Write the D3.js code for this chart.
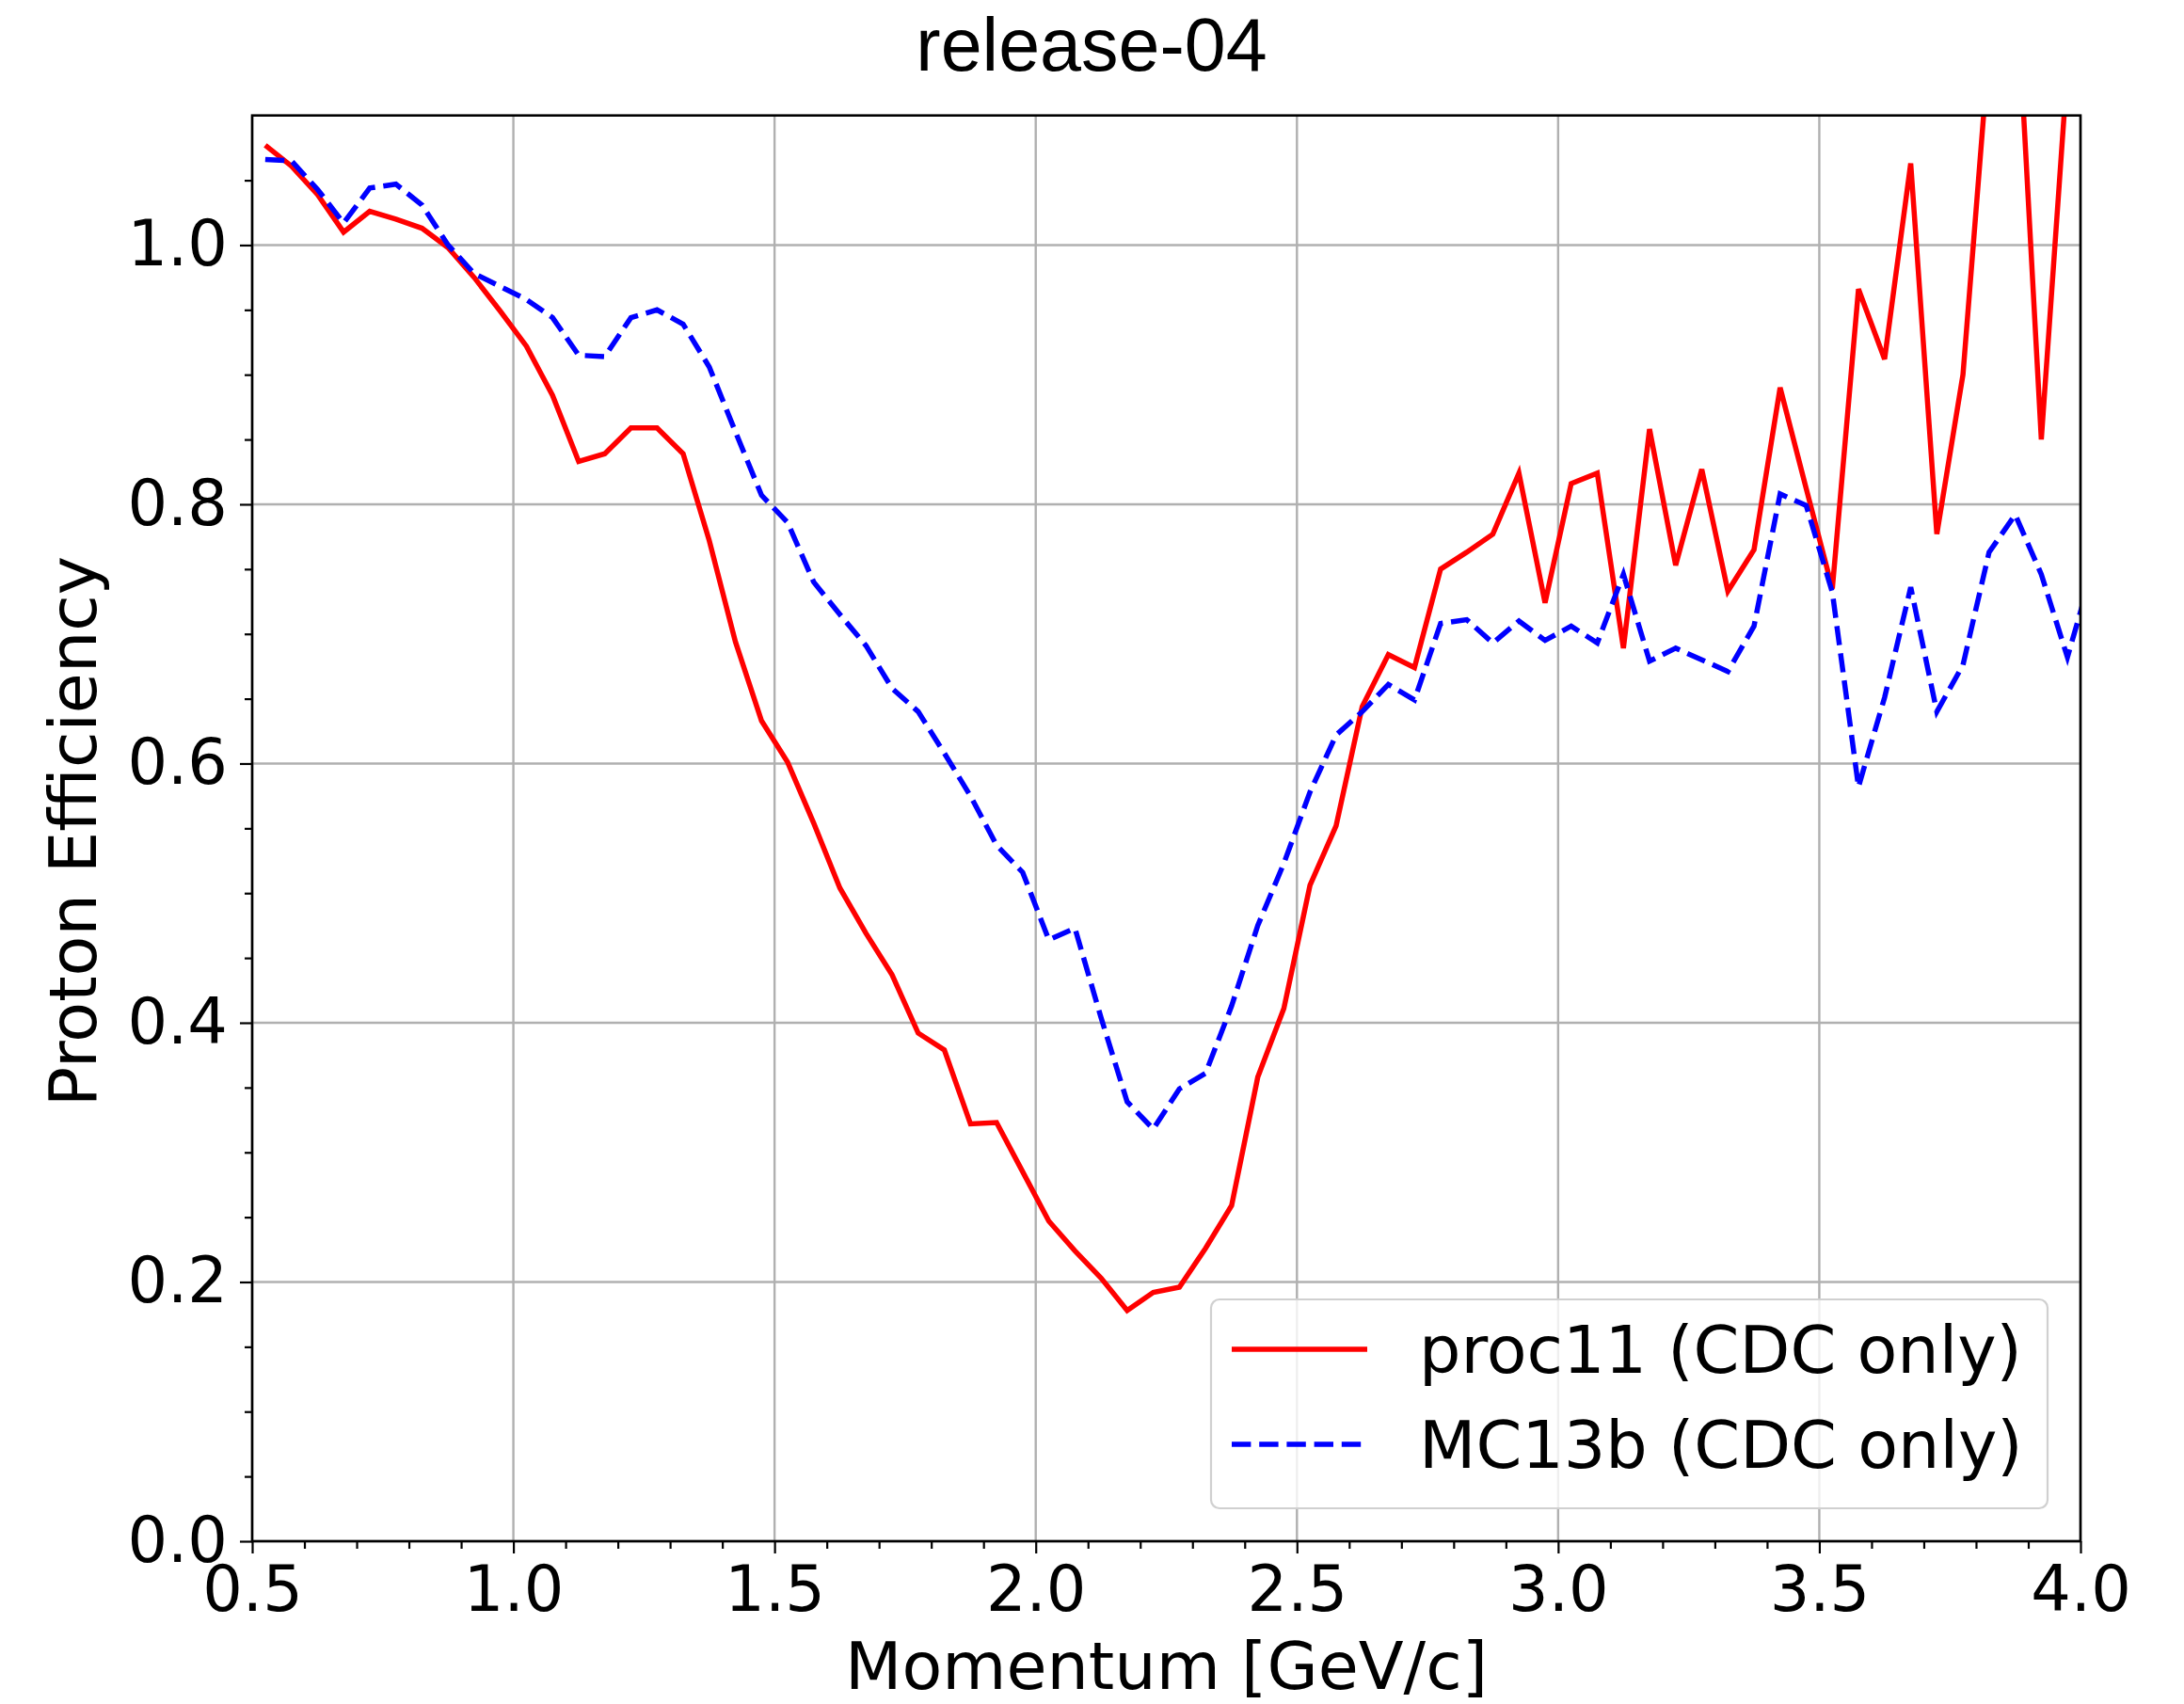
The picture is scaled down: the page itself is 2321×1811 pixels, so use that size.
<!DOCTYPE html>
<html><head><meta charset="utf-8">
<script src="https://cdn.jsdelivr.net/npm/d3@7/dist/d3.min.js"></script>
<style>body{margin:0;background:#fff}svg{display:block}</style>
</head><body>
<svg id="chart" width="2321" height="1811"></svg>
<script>
const momentum = [0.525,0.575,0.625,0.675,0.725,0.775,0.825,0.875,0.925,0.975,
  1.025,1.075,1.125,1.175,1.225,1.275,1.325,1.375,1.425,1.475,
  1.525,1.575,1.625,1.675,1.725,1.775,1.825,1.875,1.925,1.975,
  2.025,2.075,2.125,2.175,2.225,2.275,2.325,2.375,2.425,2.475,
  2.525,2.575,2.625,2.675,2.725,2.775,2.825,2.875,2.925,2.975,
  3.025,3.075,3.125,3.175,3.225,3.275,3.325,3.375,3.425,3.475,
  3.525,3.575,3.625,3.675,3.725,3.775,3.825,3.875,3.925,3.975,4.025];
const proc11 = [1.077,1.061,1.039,1.010,1.026,1.020,1.013,0.998,0.975,0.949,
  0.922,0.884,0.833,0.839,0.859,0.859,0.839,0.772,0.694,0.633,
  0.601,0.554,0.504,0.469,0.437,0.392,0.379,0.322,0.323,0.285,
  0.247,0.224,0.203,0.178,0.192,0.196,0.226,0.259,0.358,0.411,
  0.506,0.552,0.644,0.684,0.674,0.750,0.763,0.777,0.824,0.724,
  0.816,0.824,0.689,0.858,0.753,0.827,0.733,0.765,0.890,0.812,
  0.735,0.966,0.912,1.063,0.777,0.900,1.153,1.220,0.850,1.137,1.200];
const mc13b = [1.066,1.065,1.043,1.017,1.044,1.047,1.031,1.000,0.978,0.968,
  0.958,0.944,0.915,0.914,0.944,0.950,0.939,0.906,0.856,0.807,
  0.786,0.740,0.715,0.691,0.658,0.640,0.608,0.575,0.537,0.516,
  0.464,0.473,0.404,0.339,0.318,0.349,0.361,0.413,0.475,0.523,
  0.578,0.622,0.640,0.661,0.649,0.708,0.711,0.693,0.710,0.695,
  0.706,0.693,0.746,0.679,0.689,0.680,0.671,0.706,0.808,0.799,
  0.732,0.582,0.651,0.736,0.640,0.676,0.763,0.792,0.746,0.682,0.752];
const xTicks = [0.5,1.0,1.5,2.0,2.5,3.0,3.5,4.0];
const xMinorTicks = [0.6,0.7,0.8,0.9,1.1,1.2,1.3,1.4,1.6,1.7,1.8,1.9,2.1,2.2,2.3,2.4,2.6,2.7,2.8,2.9,3.1,3.2,3.3,3.4,3.6,3.7,3.8,3.9];
const yTicks = [0.0,0.2,0.4,0.6,0.8,1.0];
const yMinorTicks = [0.05,0.1,0.15,0.25,0.3,0.35,0.45,0.5,0.55,0.65,0.7,0.75,0.85,0.9,0.95,1.05];
const seriesNames = ["proc11 (CDC only)", "MC13b (CDC only)"];
const seriesColors = ["#ff0000", "#0000ff"];
const titleText = "release-04";
const xLabelText = "Momentum [GeV/c]";
const yLabelText = "Proton Efficiency";

const svg = d3.select("#chart");
const L = 268, R = 2211, T = 122.7, B = 1638;
const x = d3.scaleLinear().domain([0.5, 4.0]).range([L, R]);
const y = d3.scaleLinear().domain([0, 1.1]).range([B, T]);
const FONT = "'DejaVu Sans', sans-serif";
const FS_TICK = 67;
const FS_LABEL = 70;
const LW = 5.5;
const DASH = "20.4,8.8";

svg.append("rect").attr("width", 2321).attr("height", 1811).attr("fill", "#fff");

// grid
const grid = svg.append("g");
grid.selectAll(".gx").data(xTicks).join("line")
  .attr("x1", d => x(d)).attr("x2", d => x(d)).attr("y1", T).attr("y2", B)
  .attr("stroke", "#b0b0b0").attr("stroke-width", 2.4);
grid.selectAll(".gy").data(yTicks).join("line")
  .attr("y1", d => y(d)).attr("y2", d => y(d)).attr("x1", L).attr("x2", R)
  .attr("stroke", "#b0b0b0").attr("stroke-width", 2.4);

// clip
svg.append("clipPath").attr("id", "clip").append("rect")
  .attr("x", L).attr("y", T).attr("width", R - L).attr("height", B - T);

const lineGen = d3.line().x((d, i) => x(momentum[i])).y(d => y(d));
const lines = svg.append("g").attr("clip-path", "url(#clip)");
lines.append("path").datum(proc11).attr("d", lineGen)
  .attr("fill", "none").attr("stroke", seriesColors[0]).attr("stroke-width", LW)
  .attr("stroke-linejoin", "miter");
lines.append("path").datum(mc13b).attr("d", lineGen)
  .attr("fill", "none").attr("stroke", seriesColors[1]).attr("stroke-width", LW)
  .attr("stroke-dasharray", DASH);

// axes
const xAxis = svg.append("g").attr("transform", `translate(0,${B})`)
  .call(d3.axisBottom(x).tickValues(xTicks).tickFormat(d3.format(".1f")).tickSize(13).tickPadding(13));
const xMinor = svg.append("g").attr("transform", `translate(0,${B})`)
  .call(d3.axisBottom(x).tickValues(xMinorTicks).tickFormat("").tickSize(8));
const yAxis = svg.append("g").attr("transform", `translate(${L},0)`)
  .call(d3.axisLeft(y).tickValues(yTicks).tickFormat(d3.format(".1f")).tickSize(13).tickPadding(13));
const yMinor = svg.append("g").attr("transform", `translate(${L},0)`)
  .call(d3.axisLeft(y).tickValues(yMinorTicks).tickFormat("").tickSize(8));
[xAxis, xMinor, yAxis, yMinor].forEach(g => {
  g.select(".domain").remove();
  g.selectAll(".tick line").attr("stroke", "#000").attr("stroke-width", 2.2);
  g.selectAll(".tick text").attr("font-family", FONT).attr("font-size", FS_TICK).attr("fill", "#000");
});
xAxis.selectAll(".tick text").attr("dy", "0.71em");

// frame
svg.append("rect").attr("x", L).attr("y", T).attr("width", R - L).attr("height", B - T)
  .attr("fill", "none").attr("stroke", "#000").attr("stroke-width", 2.6);

// title & labels
svg.append("text").attr("x", 1160).attr("y", 75).attr("text-anchor", "middle")
  .attr("font-family", "'Liberation Sans', Arial, sans-serif").attr("font-size", 79)
  .attr("fill", "#000").text(titleText);
svg.append("text").attr("x", (L + R) / 2).attr("y", 1795).attr("text-anchor", "middle")
  .attr("font-family", FONT).attr("font-size", FS_LABEL).attr("fill", "#000").text(xLabelText);
svg.append("text").attr("transform", `translate(102,${(T + B) / 2 + 3}) rotate(-90)`)
  .attr("text-anchor", "middle")
  .attr("font-family", FONT).attr("font-size", FS_LABEL).attr("fill", "#000").text(yLabelText);

// legend
const lg = svg.append("g");
lg.append("rect").attr("x", 1287).attr("y", 1381).attr("width", 889).attr("height", 222)
  .attr("rx", 9).attr("fill", "#fff").attr("fill-opacity", 0.8)
  .attr("stroke", "#d0d0d0").attr("stroke-width", 2.2);
const rows = [1434, 1535];
seriesNames.forEach((name, i) => {
  const ln = lg.append("line").attr("x1", 1309).attr("x2", 1453).attr("y1", rows[i]).attr("y2", rows[i])
    .attr("stroke", seriesColors[i]).attr("stroke-width", LW);
  if (i === 1) ln.attr("stroke-dasharray", DASH);
  lg.append("text").attr("x", 1508).attr("y", rows[i] + 25)
    .attr("font-family", FONT).attr("font-size", FS_LABEL).attr("fill", "#000").text(name);
});
</script>
</body></html>
